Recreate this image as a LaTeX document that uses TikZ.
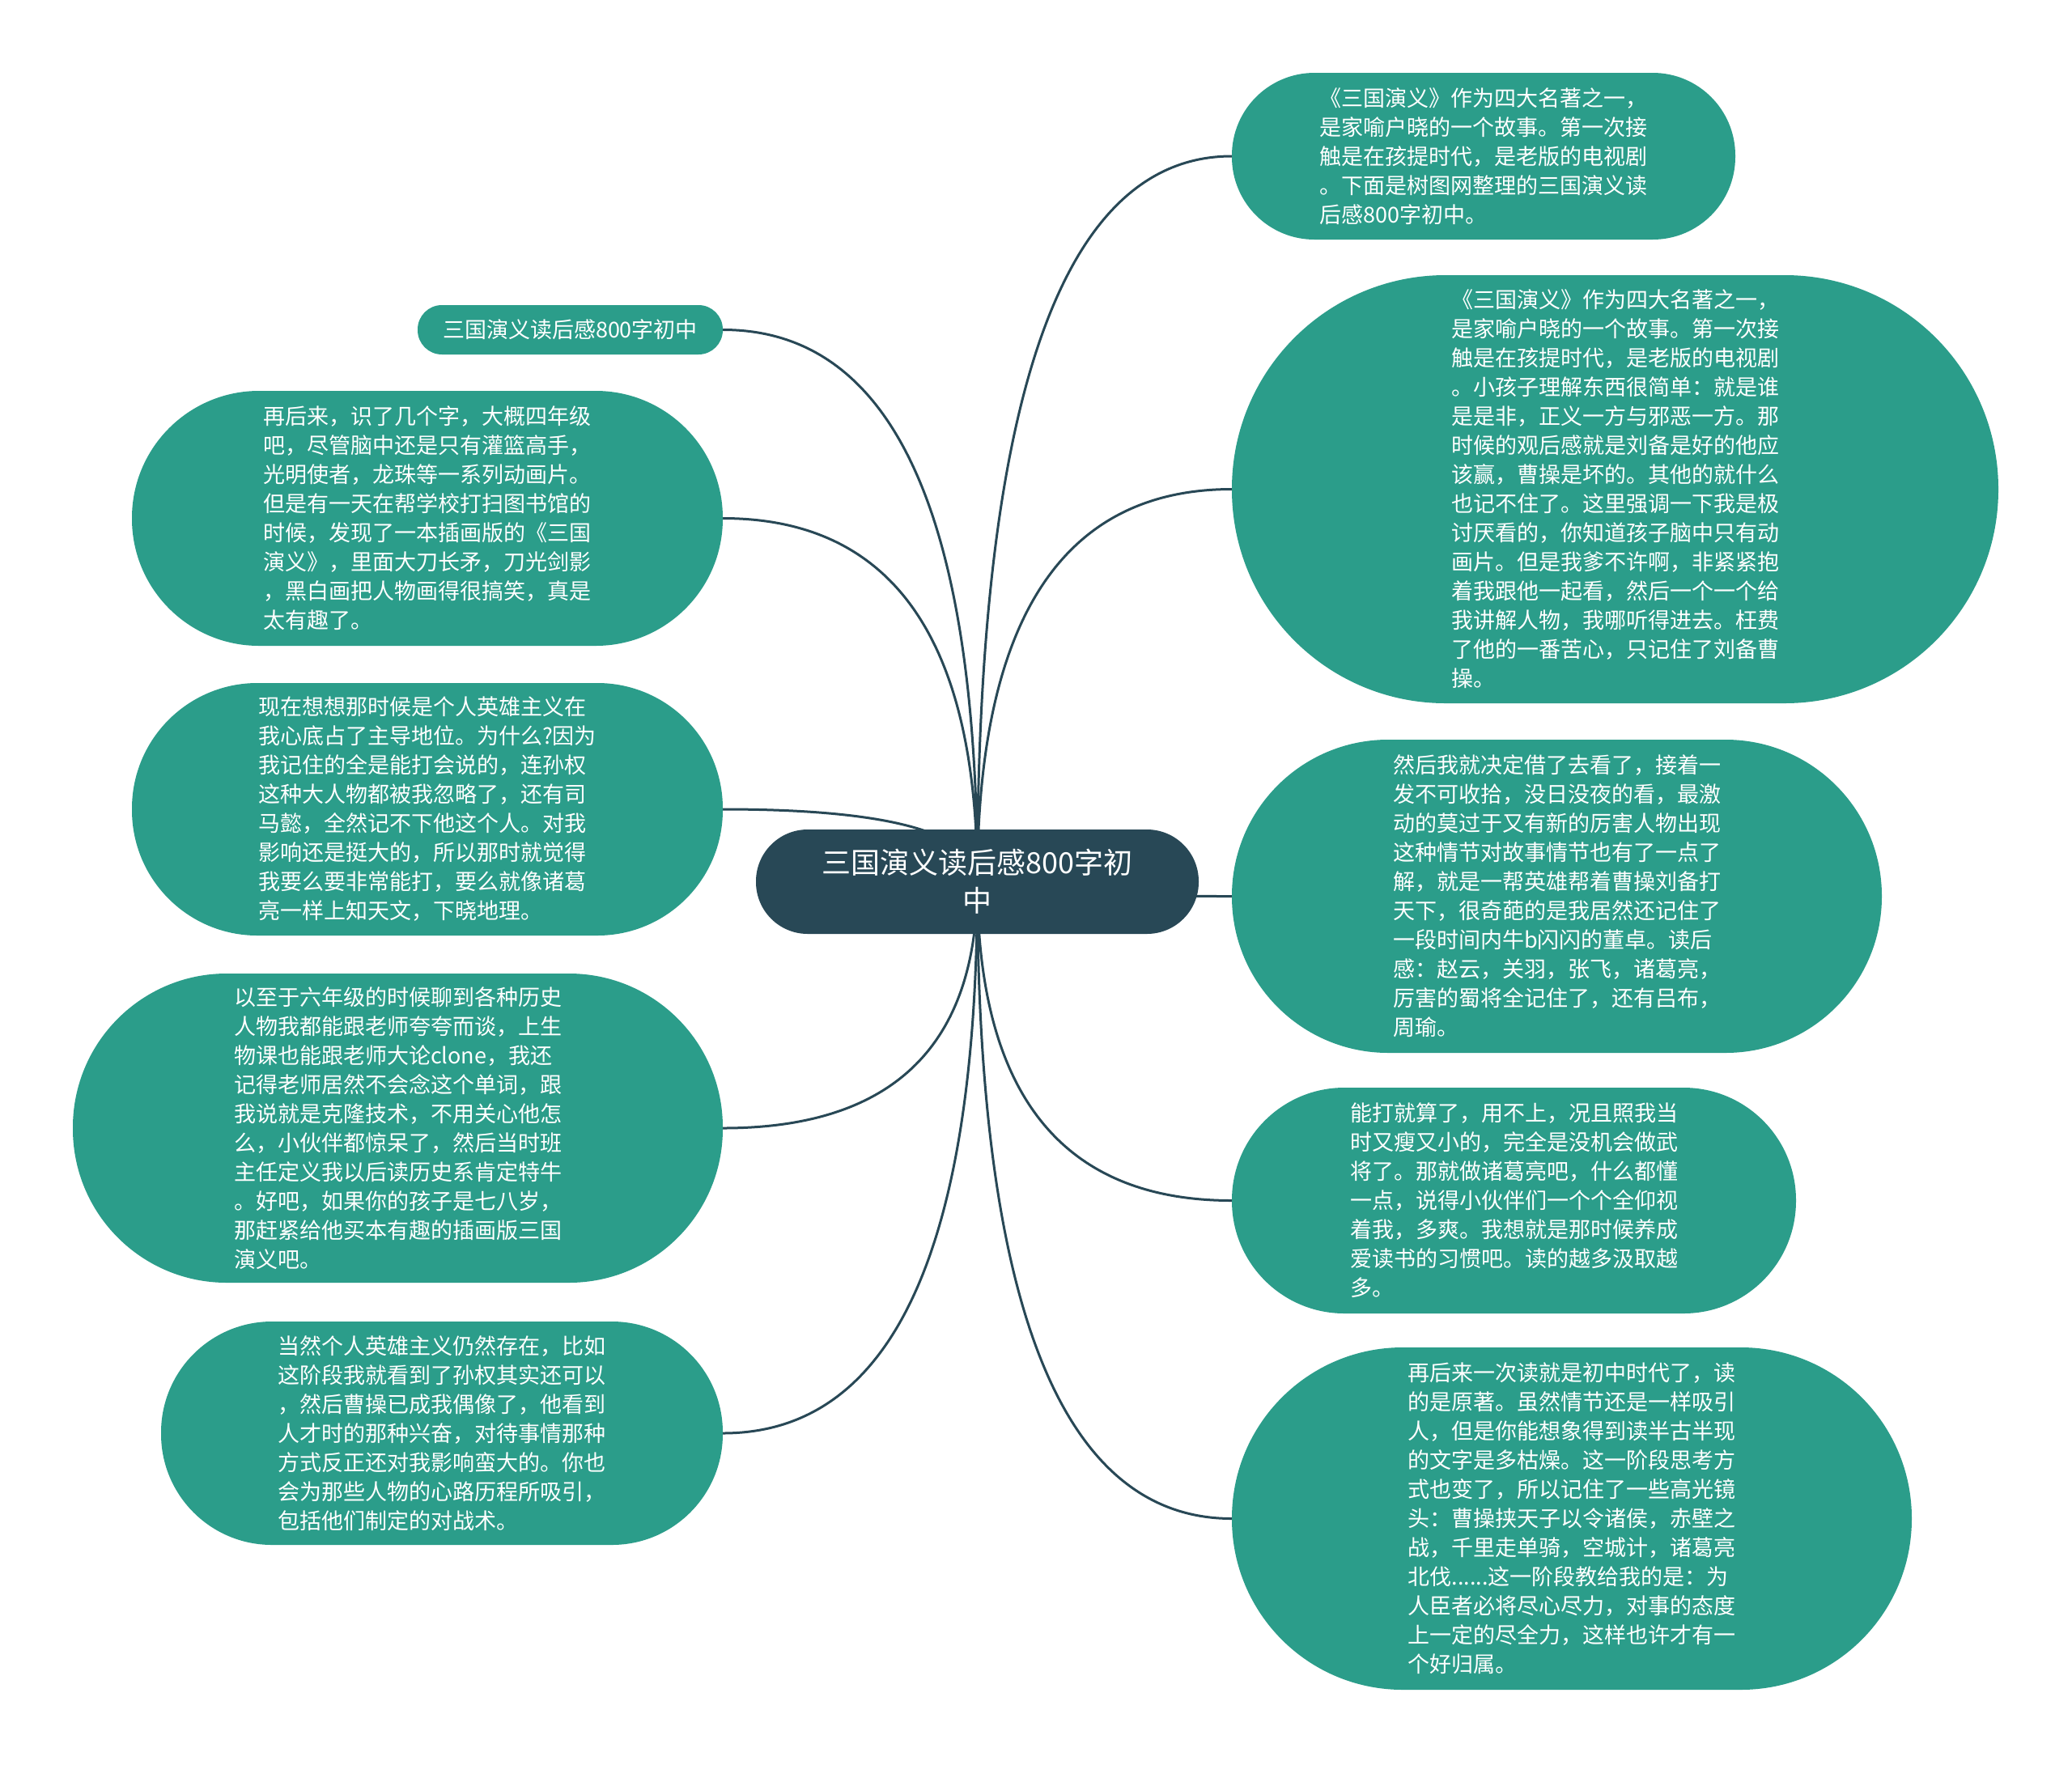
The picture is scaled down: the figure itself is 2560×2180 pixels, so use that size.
\documentclass[tikz,border=0pt]{standalone}
\usepackage{fontspec}
\setmainfont{Noto Sans CJK SC}
\usetikzlibrary{calc}
\definecolor{leafteal}{HTML}{2B9D8A}
\definecolor{rootslate}{HTML}{284856}
\pgfdeclarelayer{bg}
\pgfsetlayers{bg,main}
\begin{document}
\begin{tikzpicture}[x=1pt,y=-1pt,
  leaf/.style={fill=leafteal, text=white, align=left, inner sep=0pt,
    font=\fontsize{27}{36}\selectfont},
  rootnode/.style={fill=rootslate, text=white, align=center, inner sep=0pt,
    font=\fontsize{36}{47}\selectfont},
  conn/.style={draw=rootslate, line width=3pt,
    to path={.. controls ($(\tikztostart)!0.6667!(\tikztostart|-\tikztotarget)$)
      and ($(\tikztostart|-\tikztotarget)!0.3333!(\tikztotarget)$) .. (\tikztotarget)}}
]
\useasboundingbox (0,0) rectangle (2560,2180);

% root
\node[rootnode, minimum width=547pt, minimum height=129pt, rounded corners=64pt]
  (root) at (1207.5,1089.5) {三国演义读后感800字初\\中};

% left
\node[leaf, align=center, minimum width=377pt, minimum height=61pt, rounded corners=30pt]
  (L1) at (704.5,407.5) {三国演义读后感800字初中};

\node[leaf, minimum width=730pt, minimum height=315pt, rounded corners=157pt]
  (L2) at (528,640.5) {再后来，识了几个字，大概四年级\\
吧，尽管脑中还是只有灌篮高手，\\
光明使者，龙珠等一系列动画片。\\
但是有一天在帮学校打扫图书馆的\\
时候，发现了一本插画版的《三国\\
演义》，里面大刀长矛，刀光剑影\\
，黑白画把人物画得很搞笑，真是\\
太有趣了。};

\node[leaf, minimum width=730pt, minimum height=312pt, rounded corners=155pt]
  (L3) at (528,1000) {现在想想那时候是个人英雄主义在\\
我心底占了主导地位。为什么?因为\\
我记住的全是能打会说的，连孙权\\
这种大人物都被我忽略了，还有司\\
马懿，全然记不下他这个人。对我\\
影响还是挺大的，所以那时就觉得\\
我要么要非常能打，要么就像诸葛\\
亮一样上知天文，下晓地理。};

\node[leaf, minimum width=803pt, minimum height=382pt, rounded corners=190pt]
  (L4) at (491.5,1394) {以至于六年级的时候聊到各种历史\\
人物我都能跟老师夸夸而谈，上生\\
物课也能跟老师大论clone，我还\\
记得老师居然不会念这个单词，跟\\
我说就是克隆技术，不用关心他怎\\
么，小伙伴都惊呆了，然后当时班\\
主任定义我以后读历史系肯定特牛\\
。好吧，如果你的孩子是七八岁，\\
那赶紧给他买本有趣的插画版三国\\
演义吧。};

\node[leaf, minimum width=694pt, minimum height=276pt, rounded corners=137pt]
  (L5) at (546,1771) {当然个人英雄主义仍然存在，比如\\
这阶段我就看到了孙权其实还可以\\
，然后曹操已成我偶像了，他看到\\
人才时的那种兴奋，对待事情那种\\
方式反正还对我影响蛮大的。你也\\
会为那些人物的心路历程所吸引，\\
包括他们制定的对战术。};

% right
\node[leaf, minimum width=622pt, minimum height=206pt, rounded corners=102pt]
  (R1) at (1833,193) {《三国演义》作为四大名著之一，\\
是家喻户晓的一个故事。第一次接\\
触是在孩提时代，是老版的电视剧\\
。下面是树图网整理的三国演义读\\
后感800字初中。};

\node[leaf, minimum width=947pt, minimum height=529pt, rounded corners=264pt]
  (R2) at (1995.5,604.5) {《三国演义》作为四大名著之一，\\
是家喻户晓的一个故事。第一次接\\
触是在孩提时代，是老版的电视剧\\
。小孩子理解东西很简单：就是谁\\
是是非，正义一方与邪恶一方。那\\
时候的观后感就是刘备是好的他应\\
该赢，曹操是坏的。其他的就什么\\
也记不住了。这里强调一下我是极\\
讨厌看的，你知道孩子脑中只有动\\
画片。但是我爹不许啊，非紧紧抱\\
着我跟他一起看，然后一个一个给\\
我讲解人物，我哪听得进去。枉费\\
了他的一番苦心，只记住了刘备曹\\
操。};

\node[leaf, minimum width=803pt, minimum height=387pt, rounded corners=193pt]
  (R3) at (1923.5,1107.5) {然后我就决定借了去看了，接着一\\
发不可收拾，没日没夜的看，最激\\
动的莫过于又有新的厉害人物出现\\
这种情节对故事情节也有了一点了\\
解，就是一帮英雄帮着曹操刘备打\\
天下，很奇葩的是我居然还记住了\\
一段时间内牛b闪闪的董卓。读后\\
感：赵云，关羽，张飞，诸葛亮，\\
厉害的蜀将全记住了，还有吕布，\\
周瑜。};

\node[leaf, minimum width=697pt, minimum height=279pt, rounded corners=139pt]
  (R4) at (1870.5,1483.5) {能打就算了，用不上，况且照我当\\
时又瘦又小的，完全是没机会做武\\
将了。那就做诸葛亮吧，什么都懂\\
一点，说得小伙伴们一个个全仰视\\
着我，多爽。我想就是那时候养成\\
爱读书的习惯吧。读的越多汲取越\\
多。};

\node[leaf, minimum width=840pt, minimum height=423pt, rounded corners=211pt]
  (R5) at (1942,1876.5) {再后来一次读就是初中时代了，读\\
的是原著。虽然情节还是一样吸引\\
人，但是你能想象得到读半古半现\\
的文字是多枯燥。这一阶段思考方\\
式也变了，所以记住了一些高光镜\\
头：曹操挟天子以令诸侯，赤壁之\\
战，千里走单骑，空城计，诸葛亮\\
北伐......这一阶段教给我的是：为\\
人臣者必将尽心尽力，对事的态度\\
上一定的尽全力，这样也许才有一\\
个好归属。};

\begin{pgfonlayer}{bg}
\fill[white] (0,0) rectangle (2560,2180);
\foreach \n in {L1,L2,L3,L4,L5}
  \draw[conn] (root.center) to (\n.east);
\foreach \n in {R1,R2,R3,R4,R5}
  \draw[conn] (root.center) to (\n.west);
\end{pgfonlayer}
\end{tikzpicture}
\end{document}
